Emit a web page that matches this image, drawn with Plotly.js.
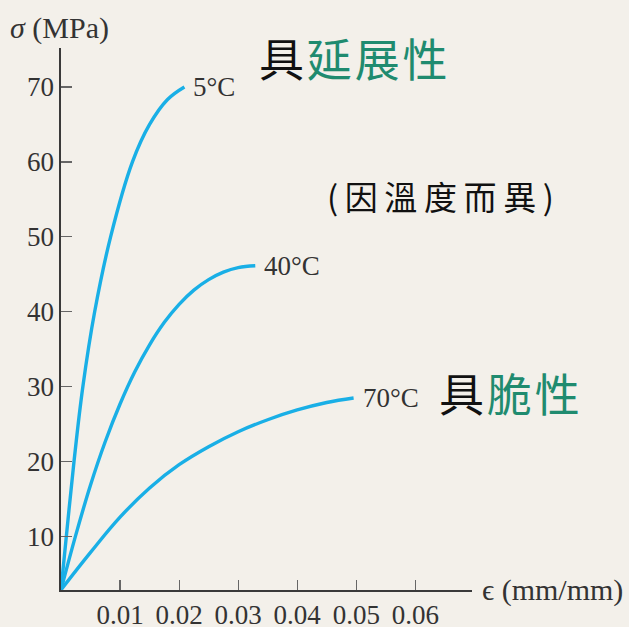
<!DOCTYPE html>
<html>
<head>
<meta charset="utf-8">
<script src="https://cdn.plot.ly/plotly-3.0.1.min.js"></script>
<style>
  html, body { margin: 0; padding: 0; background: #f3f0ea; }
  #chart { width: 629px; height: 627px; }
</style>
</head>
<body>
<div id="chart"></div>
<script>
// Strain (mm/mm) and stress (MPa)
const strain5C  = [0, 0.0009, 0.0022, 0.0037, 0.0057, 0.0084, 0.0121, 0.0150, 0.0180, 0.0209];
const stress5C  = [2.9, 10, 20, 30, 40, 50, 60, 65.0, 68.3, 70];

const strain40C = [0, 0.0025, 0.005, 0.0075, 0.010, 0.0125, 0.015, 0.0175, 0.020, 0.0225, 0.025, 0.0275, 0.030, 0.0329];
const stress40C = [2.9, 10.2, 16.9, 22.7, 27.7, 32.0, 35.6, 38.6, 41.0, 42.9, 44.3, 45.3, 45.9, 46.15];

const strain70C = [0, 0.005, 0.010, 0.015, 0.020, 0.025, 0.030, 0.035, 0.040, 0.045, 0.04955];
const stress70C = [2.9, 7.9, 12.6, 16.5, 19.6, 22.0, 24.0, 25.6, 26.9, 27.9, 28.5];

const curveLabels = ['5°C', '40°C', '70°C'];

const xTickVals = [0.01, 0.02, 0.03, 0.04, 0.05, 0.06];
const xTickText = ['0.01', '0.02', '0.03', '0.04', '0.05', '0.06'];
const yTickVals = [10, 20, 30, 40, 50, 60, 70];
const yTickText = ['10', '20', '30', '40', '50', '60', '70'];

const xTitle = 'ϵ (mm/mm)';
const yTitle = '<i>σ</i> (MPa)';
const HS = '\u200A'; // hair space for letter spacing
const TS = '\u2009'; // thin space
const noteDuctile = '<span style="color:#111111">具</span>' + HS +
  '<span style="color:#1f8b6f">' + ['延', '展', '性'].join(HS) + '</span>';
const noteTemp = ['(', '因', '溫', '度', '而', '異', ')'].join(TS);
const noteBrittle = '<span style="color:#111111">具</span>' + HS +
  '<span style="color:#1f8b6f">' + ['脆', '性'].join(HS) + '</span>';

const lineColor = '#19afe6';
const serif = 'Liberation Serif, Times New Roman, serif';
const cjk = 'Noto Sans CJK TC, Noto Sans CJK SC, sans-serif';
const textColor = '#333333';

const series = [
  { x: strain5C,  y: stress5C },
  { x: strain40C, y: stress40C },
  { x: strain70C, y: stress70C }
];

const traces = series.map(s => ({
  type: 'scatter',
  mode: 'lines',
  x: s.x,
  y: s.y,
  line: { color: lineColor, width: 3.4, shape: 'spline', smoothing: 1.1 },
  hoverinfo: 'skip',
  showlegend: false
}));

const annotations = series.map((s, i) => ({
  x: s.x[s.x.length - 1],
  y: s.y[s.y.length - 1],
  xref: 'x', yref: 'y',
  text: curveLabels[i],
  showarrow: false,
  xanchor: 'left', yanchor: 'middle',
  xshift: 7,
  font: { family: serif, size: 27, color: textColor }
}));

annotations.push(
  { x: -0.124, y: 1.036, xref: 'paper', yref: 'paper', text: yTitle, showarrow: false,
    xanchor: 'left', yanchor: 'middle', xshift: -2, font: { family: serif, size: 30, color: textColor } },
  { x: 1.025, y: 0, xref: 'paper', yref: 'paper', text: xTitle, showarrow: false,
    xanchor: 'left', yanchor: 'middle', xshift: -2, font: { family: serif, size: 30, color: textColor } },
  { x: 0.4845, y: 0.982, xref: 'paper', yref: 'paper', text: noteDuctile, showarrow: false,
    xanchor: 'left', yanchor: 'middle', xshift: -3, font: { family: cjk, size: 45, color: '#1f8b6f' } },
  { x: 0.650, y: 0.7273, xref: 'paper', yref: 'paper', text: noteTemp, showarrow: false,
    xanchor: 'left', yanchor: 'middle', xshift: -3, font: { family: cjk, size: 33, color: '#111111' } },
  { x: 0.9228, y: 0.3637, xref: 'paper', yref: 'paper', text: noteBrittle, showarrow: false,
    xanchor: 'left', yanchor: 'middle', xshift: -3, font: { family: cjk, size: 45, color: '#1f8b6f' } }
);

const layout = {
  width: 629, height: 627,
  paper_bgcolor: '#f3f0ea',
  plot_bgcolor: '#f3f0ea',
  margin: { l: 61, r: 157, t: 48, b: 37, pad: 0 },
  showlegend: false,
  xaxis: {
    range: [0, 0.0696],
    showgrid: false, zeroline: false,
    showline: true, linecolor: '#3a3a3a', linewidth: 1.6,
    ticks: 'inside', ticklen: 10, tickwidth: 1.2, tickcolor: '#666666',
    tickvals: xTickVals, ticktext: xTickText,
    tickfont: { family: serif, size: 27, color: textColor },
    fixedrange: true
  },
  yaxis: {
    range: [2.88, 75.2],
    showgrid: false, zeroline: false,
    showline: true, linecolor: '#3a3a3a', linewidth: 1.6,
    ticks: 'inside', ticklen: 11, tickwidth: 1.2, tickcolor: '#666666',
    tickvals: yTickVals, ticktext: yTickText,
    tickfont: { family: serif, size: 27, color: textColor },
    fixedrange: true
  },
  annotations: annotations
};

Plotly.newPlot('chart', traces, layout, { displayModeBar: false, staticPlot: true });
</script>
</body>
</html>
